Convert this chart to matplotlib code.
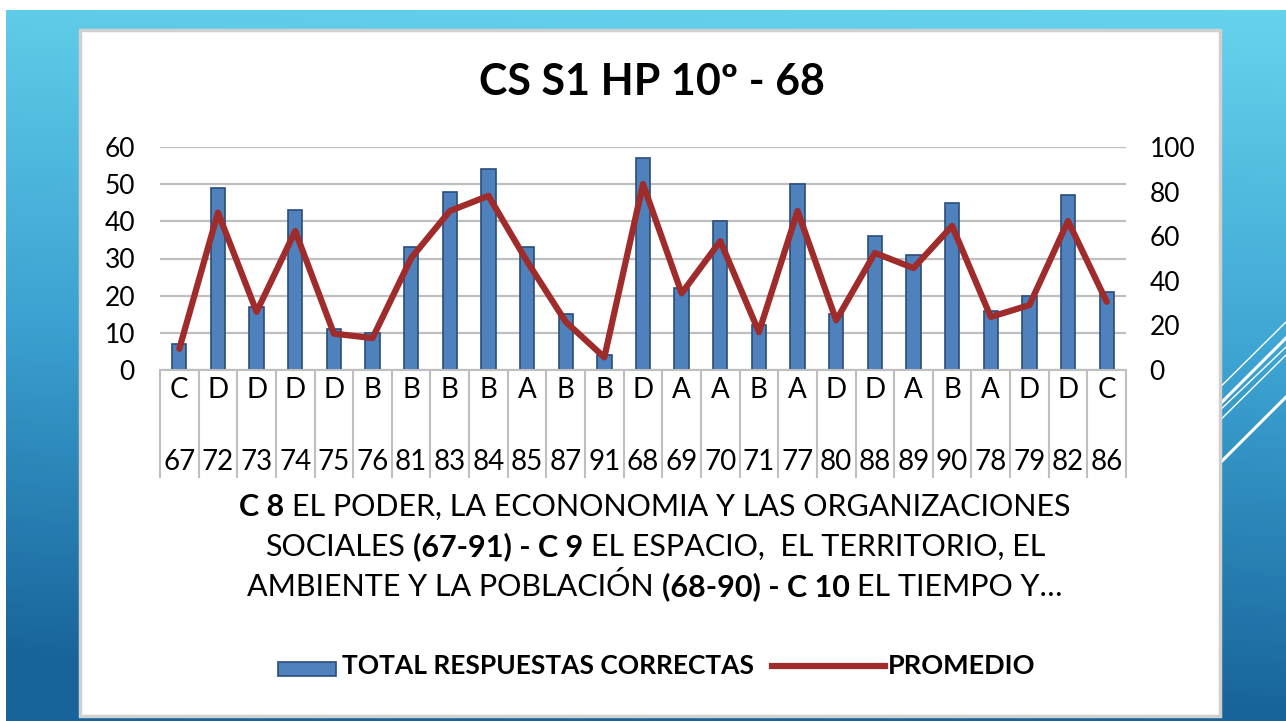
import numpy as np
import matplotlib.pyplot as plt
from matplotlib.patches import Rectangle
from matplotlib.lines import Line2D
from matplotlib.colors import LinearSegmentedColormap

plt.rcParams['font.family'] = ['Lato', 'DejaVu Sans']

letters = ['C', 'D', 'D', 'D', 'D', 'B', 'B', 'B', 'B', 'A', 'B', 'B', 'D',
           'A', 'A', 'B', 'A', 'D', 'D', 'A', 'B', 'A', 'D', 'D', 'C']
codes = ['67', '72', '73', '74', '75', '76', '81', '83', '84', '85', '87', '91', '68',
         '69', '70', '71', '77', '80', '88', '89', '90', '78', '79', '82', '86']
total = [7, 49, 17, 43, 11, 10, 33, 48, 54, 33, 15, 4, 57,
         22, 40, 12, 50, 15, 36, 31, 45, 16, 20, 47, 21]
promedio = [9.5, 70.6, 26.1, 62.3, 16.3, 14.3, 50.2, 71.3, 78.1, 48.7, 21.6, 5.7, 83.4,
            34.4, 57.8, 17.0, 71.3, 22.3, 52.5, 45.7, 64.6, 23.8, 29.1, 66.8, 30.6]

title = 'CS S1 HP 10º - 68'
xlabel_lines = [
    [('C 8', 'bold'), ('EL PODER, LA ECONONOMIA Y LAS ORGANIZACIONES', 'normal')],
    [('SOCIALES', 'normal'), ('(67-91) - C 9', 'bold'), ('EL ESPACIO,  EL TERRITORIO, EL', 'normal')],
    [('AMBIENTE Y LA POBLACIÓN', 'normal'), ('(68-90) - C 10', 'bold'), ('EL TIEMPO Y…', 'normal')],
]

W, H = 1286, 721
fig = plt.figure(figsize=(W / 100, H / 100), dpi=100)
fig.patch.set_facecolor('white')

def fx(x):
    return x / W

def fy(y):
    return 1 - y / H

# slide background gradient
bg = fig.add_axes([fx(6), 0, 1 - fx(6), 1 - 10 / H], zorder=-3)
yy, xx = np.mgrid[0:1:300j, 0:1:300j]
s = np.clip(yy + 0.08 * (1 - xx), 0, 1)
cmap = LinearSegmentedColormap.from_list(
    'slide', [(0, '#66D3EE'), (0.12, '#5CC8E6'), (0.5, '#3DA3D2'), (1, '#17639A')])
bg.imshow(s, cmap=cmap, aspect='auto', extent=[0, 1, 0, 1], vmin=0, vmax=1)
bg.set_axis_off()

# decorative white lines on the right
deco = [((1222, 385), (1286, 322), 1.0), ((1222, 402), (1286, 338), 2.2),
        ((1222, 407), (1286, 347), 1.0), ((1222, 418), (1286, 355), 1.0),
        ((1222, 461), (1286, 397), 2.2)]
for (x0, y0), (x1, y1), lw in deco:
    fig.add_artist(Line2D([fx(x0 - 30), fx(x1)], [fy(y0 + 30), fy(y1)], color='white', lw=lw, zorder=-2))

# white card
fig.add_artist(Rectangle((fx(80), fy(716)), fx(1140), 686 / H, facecolor='white',
                         edgecolor='#D0D0D0', lw=2.5, zorder=-1))

ax = fig.add_axes([fx(160), fy(370), fx(966), 223 / H])
ax.patch.set_alpha(0)
x = np.arange(len(total))
ax.bar(x, total, width=0.37, color='#4F81BD', edgecolor='#2A4D7A', lw=1.2, zorder=2)
ax.set_xlim(-0.5, len(total) - 0.5)
ax.set_ylim(0, 60)
ax.set_yticks(range(0, 61, 10))
ax.yaxis.grid(True, color='#BFBFBF', lw=1.6)
ax.set_axisbelow(True)
ax.set_xticks([])
for sp in ax.spines.values():
    sp.set_visible(False)
ax.tick_params(axis='y', length=0, labelsize=19, pad=18)

# category table below the axis
trans = ax.get_xaxis_transform()
ax.vlines(np.arange(len(total) + 1) - 0.5, -108 / 223, 0, transform=trans,
          color='#BFBFBF', lw=1.5, clip_on=False)
ax.plot([-0.5, len(total) - 0.5], [0, 0], transform=trans, color='#BFBFBF', lw=1.5, clip_on=False)
for i in range(len(total)):
    ax.text(i, -20 / 223, letters[i], transform=trans, ha='center', va='center', fontsize=20)
    ax.text(i, -92 / 223, codes[i], transform=trans, ha='center', va='center', fontsize=20)

ax2 = ax.twinx()
ax2.plot(x, promedio, color='#A02B2B', lw=4.5, solid_joinstyle='round',
         solid_capstyle='round', zorder=3)
ax2.set_ylim(0, 100)
ax2.set_yticks(range(0, 101, 20))
for sp in ax2.spines.values():
    sp.set_visible(False)
ax2.tick_params(axis='y', length=0, labelsize=19, pad=17)

fig.text(fx(652), fy(82), title, ha='center', va='center', fontsize=31, fontweight='bold')

# multi-weight x label
renderer = fig.canvas.get_renderer()
probe1 = fig.text(0, 0, 'a a', fontsize=22)
probe2 = fig.text(0, 0, 'aa', fontsize=22)
space = probe1.get_window_extent(renderer).width - probe2.get_window_extent(renderer).width
probe1.remove()
probe2.remove()
for row, segs in enumerate(xlabel_lines):
    yc = 507 + 40 * row
    texts = [fig.text(0, fy(yc), t, fontsize=22, fontweight=w, ha='left', va='center') for t, w in segs]
    widths = [t.get_window_extent(renderer).width for t in texts]
    cur = 655 - (sum(widths) + space * (len(texts) - 1)) / 2
    for t, wd in zip(texts, widths):
        t.set_x(fx(cur))
        cur += wd + space

# legend
fig.add_artist(Rectangle((fx(278), fy(676)), fx(58), 14 / H, facecolor='#4F81BD',
                         edgecolor='#2A4D7A', lw=1.2))
fig.text(fx(342), fy(666), 'TOTAL RESPUESTAS CORRECTAS', fontsize=19, fontweight='bold',
         ha='left', va='center')
fig.add_artist(Line2D([fx(772), fx(885)], [fy(666), fy(666)], color='#A02B2B', lw=4.5))
fig.text(fx(888), fy(666), 'PROMEDIO', fontsize=19.5, fontweight='bold', ha='left', va='center')

fig.savefig('out.png', dpi=100)
